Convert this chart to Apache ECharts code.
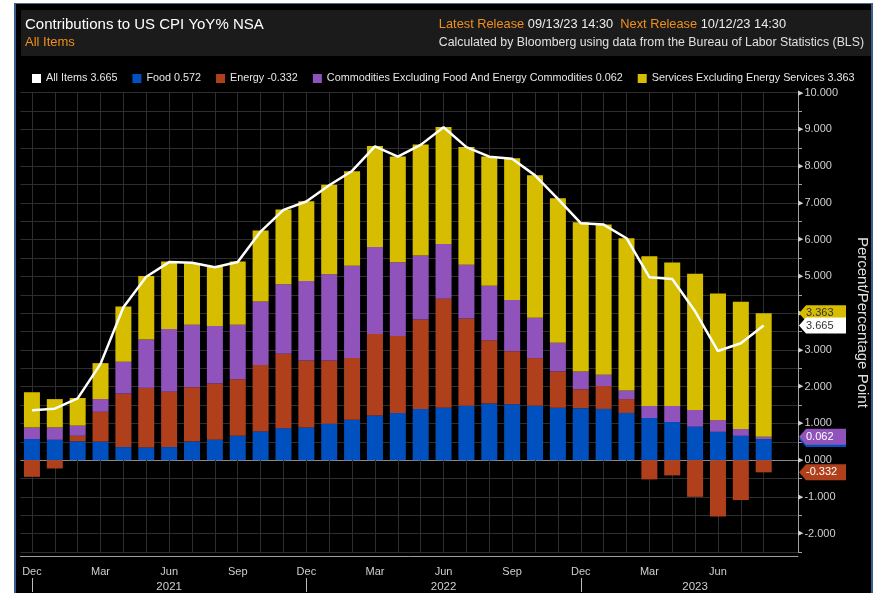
<!DOCTYPE html>
<html><head><meta charset="utf-8">
<script src="https://cdn.jsdelivr.net/npm/echarts@6/dist/echarts.min.js"></script>
<style>
html,body{margin:0;padding:0;background:#fff;overflow:hidden;}
#frame{position:absolute;left:14px;top:3px;width:855px;height:590px;background:#000;border-left:2px solid #3a5f8f;border-top:1px solid #4b6a94;border-right:2px solid #3a5f8f;}
#hdr{position:absolute;left:21px;top:10px;width:850px;height:46px;background:#1b1b1b;}
#chart{position:absolute;left:0;top:0;width:878px;height:593px;}
</style></head>
<body><div id="frame"></div><div id="hdr"></div><div id="chart"></div>
<script>
// ---- data ----
const categories = ['Dec 2020','Jan 2021','Feb 2021','Mar 2021','Apr 2021','May 2021','Jun 2021','Jul 2021','Aug 2021','Sep 2021','Oct 2021','Nov 2021',
  'Dec 2021','Jan 2022','Feb 2022','Mar 2022','Apr 2022','May 2022','Jun 2022','Jul 2022','Aug 2022','Sep 2022','Oct 2022','Nov 2022',
  'Dec 2022','Jan 2023','Feb 2023','Mar 2023','Apr 2023','May 2023','Jun 2023','Jul 2023','Aug 2023','Sep 2023'];
const allItems = [1.36,1.40,1.68,2.62,4.16,4.99,5.39,5.37,5.25,5.39,6.22,6.81,7.04,7.48,7.87,8.54,8.26,8.58,9.06,8.52,8.26,8.20,7.75,7.11,6.45,6.41,6.04,4.98,4.93,4.05,2.97,3.18,3.665];
const food = [0.573,0.554,0.514,0.504,0.356,0.346,0.356,0.504,0.554,0.662,0.781,0.870,0.890,0.989,1.097,1.216,1.285,1.394,1.424,1.483,1.542,1.522,1.483,1.424,1.414,1.394,1.285,1.147,1.038,0.910,0.771,0.662,0.572];
const energy = [-0.455,-0.227,0.148,0.811,1.453,1.621,1.503,1.483,1.532,1.542,1.809,2.027,1.819,1.720,1.681,2.214,2.096,2.432,2.966,2.373,1.720,1.443,1.295,0.989,0.514,0.623,0.376,-0.524,-0.415,-0.998,-1.532,-1.087,-0.332];
const coreGoods = [0.316,0.336,0.277,0.346,0.870,1.315,1.710,1.700,1.562,1.483,1.730,1.888,2.165,2.353,2.511,2.373,2.007,1.740,1.493,1.463,1.483,1.394,1.097,0.781,0.484,0.306,0.237,0.326,0.435,0.455,0.316,0.188,0.062];
const coreServices = [0.959,0.771,0.751,0.979,1.503,1.730,1.839,1.671,1.621,1.720,1.928,2.036,2.175,2.432,2.570,2.748,2.877,3.025,3.183,3.203,3.519,3.856,3.875,3.935,4.063,4.093,4.142,4.073,3.905,3.707,3.450,3.460,3.363];
const seriesNames = ['All Items','Food','Energy','Commodities Excluding Food And Energy Commodities','Services Excluding Energy Services'];
const yearLabels = {'Jun 2021':'2021','Jun 2022':'2022','May 2023':'2023'};
const yearStarts = ['Dec 2020','Dec 2021','Dec 2022'];

// ---- style ----
const F = "'Liberation Sans',Arial,sans-serif";
const C = {all:'#ffffff', food:'#0050bf', energy:'#b0401c', goods:'#9053bb', services:'#d6bd00'};
const last = a => a[a.length - 1];
const lastVals = {
  'All Items': last(allItems), 'Food': last(food), 'Energy': last(energy),
  'Commodities Excluding Food And Energy Commodities': last(coreGoods),
  'Services Excluding Energy Services': last(coreServices)
};
const nData = allItems.length;
const lastIdx = nData - 1;
// stacked tops of the last bar (same-sign stacking)
const foodTop = last(food);
const energyTop = last(energy) >= 0 ? foodTop + last(energy) : last(energy);
const goodsTop = (last(energy) >= 0 ? energyTop : foodTop) + last(coreGoods);
const servicesTop = goodsTop + last(coreServices);
const tags = [
  {v: foodTop, text: last(food).toFixed(3), color: C.food, tc: '#fff'},
  {v: goodsTop, text: last(coreGoods).toFixed(3), color: C.goods, tc: '#fff'},
  {v: energyTop, text: last(energy).toFixed(3), color: C.energy, tc: '#fff'},
  {v: servicesTop, text: last(coreServices).toFixed(3), color: C.services, tc: '#333'},
  {v: last(allItems), text: last(allItems).toFixed(3), color: C.all, tc: '#333'}
];

const yTicksCount = Math.round((10 - (-2.5)) / 0.5) + 1;
const hColors = [];
for (let i = 0; i < yTicksCount; i++) hColors.push(Math.abs(-2.5 + i * 0.5) < 1e-9 ? '#8a8a8a' : '#2e2e2e');

const chart = echarts.init(document.getElementById('chart'));
chart.setOption({
  animation: false,
  backgroundColor: 'transparent',
  textStyle: {fontFamily: F},
  title: [
    {text: 'Contributions to US CPI YoY% NSA', subtext: 'All Items', left: 20, top: 12, itemGap: 4,
     textStyle: {color: '#fff', fontSize: 15, fontWeight: 'normal', fontFamily: F},
     subtextStyle: {color: '#f0901c', fontSize: 13, fontFamily: F}},
    {text: '{o|Latest Release} {w|09/13/23 14:30}  {o|Next Release} {w|10/12/23 14:30}',
     subtext: 'Calculated by Bloomberg using data from the Bureau of Labor Statistics (BLS)',
     right: 9, top: 13, itemGap: 6,
     textStyle: {fontSize: 12.8, fontWeight: 'normal', fontFamily: F, color: '#fff',
       rich: {o: {color: '#f0901c', fontSize: 12.8, fontFamily: F}, w: {color: '#ececec', fontSize: 12.8, fontFamily: F}}},
     subtextStyle: {color: '#e0e0e0', fontSize: 12.3, fontFamily: F}}
  ],
  legend: {
    data: seriesNames, left: 27, top: 68, icon: 'rect', itemWidth: 9, itemHeight: 9, itemGap: 15,
    textStyle: {color: '#e6e6e6', fontSize: 10.8, fontFamily: F},
    formatter: name => name + ' ' + lastVals[name].toFixed(3),
    selectedMode: false
  },
  grid: {left: 20.5, right: 80, top: 92.7, bottom: 38.5, containLabel: false},
  xAxis: [{
    type: 'category', data: categories, position: 'bottom', offset: 4,
    axisLine: {onZero: false, lineStyle: {color: '#a0a0a0', width: 1}},
    axisTick: {alignWithLabel: true, length: 4, lineStyle: {color: '#a0a0a0'}, interval: (i) => i < nData},
    axisLabel: {color: '#cfcfcf', fontSize: 11, fontFamily: F, margin: 10,
      interval: (i) => i < nData && i % 3 === 0, formatter: v => v.slice(0, 3)},
    splitLine: {show: true, alignWithLabel: true, interval: (i) => i < nData, lineStyle: {color: '#2e2e2e', width: 1}}
  }, {
    type: 'category', data: categories, position: 'bottom', offset: 26,
    axisLine: {show: false, onZero: false},
    axisTick: {show: true, alignWithLabel: true, length: 14, lineStyle: {color: '#bdbdbd'},
      interval: (i, v) => yearStarts.indexOf(v) >= 0},
    axisLabel: {color: '#cfcfcf', fontSize: 11.5, fontFamily: F, margin: 3,
      interval: (i, v) => yearLabels[v] !== undefined, formatter: v => yearLabels[v] || ''},
    splitLine: {show: false}
  }],
  yAxis: {
    type: 'value', position: 'right', min: -2.5, max: 10, interval: 0.5,
    name: 'Percent/Percentage Point', nameLocation: 'middle', nameRotate: -90, nameGap: 57,
    nameTextStyle: {color: '#e0e0e0', fontSize: 15, fontFamily: F},
    axisLine: {show: true, lineStyle: {color: '#a0a0a0'}},
    axisTick: {show: true, length: 4, lineStyle: {color: '#a0a0a0'}},
    axisLabel: {margin: 0, fontFamily: F,
      formatter: v => Math.abs(v - Math.round(v)) < 1e-6 ? '{t|▶}{v|' + v.toFixed(3) + '}' : '',
      rich: {t: {fontSize: 7, color: '#cfcfcf', padding: [0, 1, 0, 0], fontFamily: 'DejaVu Sans'},
             v: {fontSize: 11, color: '#cfcfcf', fontFamily: F}}},
    splitLine: {show: true, lineStyle: {color: hColors, width: 1}}
  },
  series: [
    {name: 'Food', type: 'bar', stack: 'c', barWidth: 16, data: food, itemStyle: {color: C.food}},
    {name: 'Energy', type: 'bar', stack: 'c', barWidth: 16, data: energy, itemStyle: {color: C.energy}},
    {name: 'Commodities Excluding Food And Energy Commodities', type: 'bar', stack: 'c', barWidth: 16, data: coreGoods, itemStyle: {color: C.goods}},
    {name: 'Services Excluding Energy Services', type: 'bar', stack: 'c', barWidth: 16, data: coreServices, itemStyle: {color: C.services}},
    {name: 'All Items', type: 'line', data: allItems, symbol: 'none', z: 5,
     lineStyle: {color: C.all, width: 2.5}, itemStyle: {color: C.all}},
    {name: 'tags', type: 'custom', z: 10, silent: true, clip: false,
     data: tags.map(t => [lastIdx, t.v]),
     renderItem: (params, api) => {
       const t = tags[params.dataIndex];
       const y = api.coord([api.value(0), api.value(1)])[1];
       const x0 = params.coordSys.x + params.coordSys.width;
       const h = 8;
       return {type: 'group', children: [
         {type: 'polygon', shape: {points: [[x0 + 1, y], [x0 + 8, y - h], [x0 + 48, y - h], [x0 + 48, y + h], [x0 + 8, y + h]]},
          style: {fill: t.color}},
         {type: 'text', style: {text: t.text, x: x0 + 8, y: y, verticalAlign: 'middle', align: 'left',
          fill: t.tc, font: '11px ' + F}}
       ]};
     }}
  ]
});
</script></body></html>
